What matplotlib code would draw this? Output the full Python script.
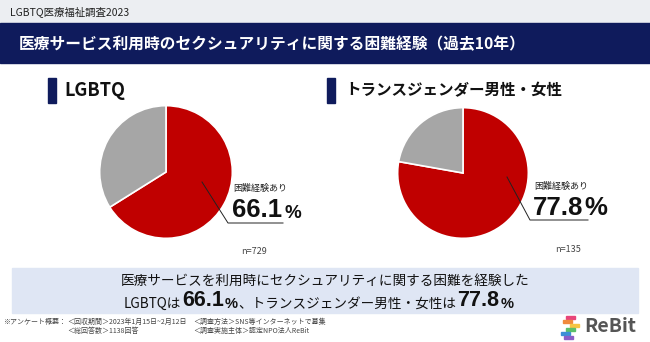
import matplotlib
matplotlib.use("Agg")
import matplotlib.pyplot as plt
from matplotlib.patches import Rectangle

plt.rcParams['font.family'] = ['Noto Sans CJK JP', 'DejaVu Sans']

# data
header = "LGBTQ医療福祉調査2023"
title = "医療サービス利用時のセクシュアリティに関する困難経験（過去10年）"
groups = ["LGBTQ", "トランスジェンダー男性・女性"]
shares = [66.1, 77.8]
n_resp = [729, 135]
label = "困難経験あり"
footnote1 = ["※アンケート概要：", "＜回収期間＞2023年1月15日~2月12日", "＜調査方法＞SNS等インターネットで募集"]
footnote2 = ["＜総回答数＞1138回答", "＜調査実施主体＞認定NPO法人ReBit"]

NAVY = "#0f1b5c"
RED = "#c00000"
GREY = "#a6a6a6"
NUM_FONT = ["Liberation Sans", "DejaVu Sans"]
W, H = 650, 342

fig = plt.figure(figsize=(W / 100, H / 100), dpi=100)
fig.patch.set_facecolor("white")


def px_axes(zorder):
    ax = fig.add_axes([0, 0, 1, 1], zorder=zorder)
    ax.set_xlim(0, W)
    ax.set_ylim(H, 0)
    ax.axis("off")
    ax.patch.set_alpha(0)
    return ax


bg = px_axes(0)
fg = px_axes(5)

# header bars
bg.add_patch(Rectangle((0, 0), W, 23, color="#eceef2"))
bg.text(10, 12, header, fontsize=7.5, va="center", color="#222222")
bg.add_patch(Rectangle((0, 23), W, 40, color=NAVY))
bg.text(19, 44, title, fontsize=11.3, va="center", color="white", weight="bold")

# pies
pie_cfg = [
    dict(cx=166, cy=172, r=67, sq=48, tx=64, lx=233, ly=188, line=[(202, 182), (228, 223), (283, 223)], nx=241, ny=252),
    dict(cx=463, cy=173, r=66, sq=327, tx=345, lx=534, ly=186, line=[(507, 177), (530, 220), (588, 220)], nx=555, ny=250),
]

for g, v, n, c in zip(groups, shares, n_resp, pie_cfg):
    bg.add_patch(Rectangle((c["sq"], 78), 8, 25, color=NAVY))
    bg.text(c["tx"], 90.5, g, fontsize=13 if g == "LGBTQ" else 11.2, weight="bold", va="center", color="#111111")

    ax = fig.add_axes([(c["cx"] - c["r"]) / W, 1 - (c["cy"] + c["r"]) / H,
                       2 * c["r"] / W, 2 * c["r"] / H], zorder=2)
    ax.pie([v, 100 - v], colors=[RED, GREY], startangle=90, counterclock=False,
           wedgeprops=dict(edgecolor="white", linewidth=1.2), radius=1)
    ax.set_xlim(-1.01, 1.01)
    ax.set_ylim(-1.01, 1.01)
    ax.set_aspect("equal")

    xs, ys = zip(*c["line"])
    fg.plot(xs, ys, color="#222222", lw=0.7)
    fg.text(c["lx"], c["ly"], label, fontsize=6.5, va="center", color="#222222")
    t = fg.text(c["lx"] - 1, c["ly"] + 29, f"{v:.1f}", fontsize=18.5, weight="bold",
                va="baseline", color="#111111", family=NUM_FONT)
    fg.annotate("%", xycoords=t, xy=(1, 0), xytext=(1.5 if g == "LGBTQ" else 0.5, 0), textcoords="offset points",
                fontsize=13.5 if g == "LGBTQ" else 18.5, weight="bold", va="bottom", color="#111111",
                family=NUM_FONT)
    fg.text(c["nx"], c["ny"], f"n={n}", fontsize=6.5, va="center", color="#444444")

# summary box
bg.add_patch(Rectangle((12, 268), 626, 45, color="#dfe6f4"))
bg.text(325, 281, "医療サービスを利用時にセクシュアリティに関する困難を経験した",
        fontsize=9.8, ha="center", va="center", color="#111111")
parts = [("LGBTQは", 9.8, "normal", None), (f"{shares[0]:.1f}", 15.5, "bold", NUM_FONT),
         ("%", 10.5, "bold", NUM_FONT), ("、トランスジェンダー男性・女性は", 9.8, "normal", None),
         (f"{shares[1]:.1f}", 15.5, "bold", NUM_FONT), ("%", 10.5, "bold", NUM_FONT)]
t = bg.text(124, 307.5, parts[0][0], fontsize=parts[0][1], weight=parts[0][2], va="baseline", color="#111111")
for s, fs, wt, fam in parts[1:]:
    kw = dict(family=fam) if fam else {}
    t = bg.annotate(s, xycoords=t, xy=(1, 0), xytext=(0.6, 0), textcoords="offset points",
                    fontsize=fs, weight=wt, va="bottom", color="#111111", **kw)

# footnote
bg.text(3, 322, footnote1[0], fontsize=5, va="center", color="#444444")
bg.text(67, 322, footnote1[1], fontsize=5, va="center", color="#444444")
bg.text(193, 322, footnote1[2], fontsize=5, va="center", color="#444444")
bg.text(67, 331, footnote2[0], fontsize=5, va="center", color="#444444")
bg.text(193, 331, footnote2[1], fontsize=5, va="center", color="#444444")

# logo
stripes = [("#e8457a", 566, 316), ("#f08a3c", 563, 320), ("#f5c542", 570, 324),
           ("#5bbf6a", 566, 328), ("#3b8fd6", 561, 332), ("#8a5cc7", 564, 336)]
for col, x0, y0 in stripes:
    bg.add_patch(Rectangle((x0, y0), 9, 2.6, color=col))
bg.text(584, 326, "ReBit", fontsize=14, weight="bold", va="center", color="#555555")

fig.savefig("out.png", dpi=100)
